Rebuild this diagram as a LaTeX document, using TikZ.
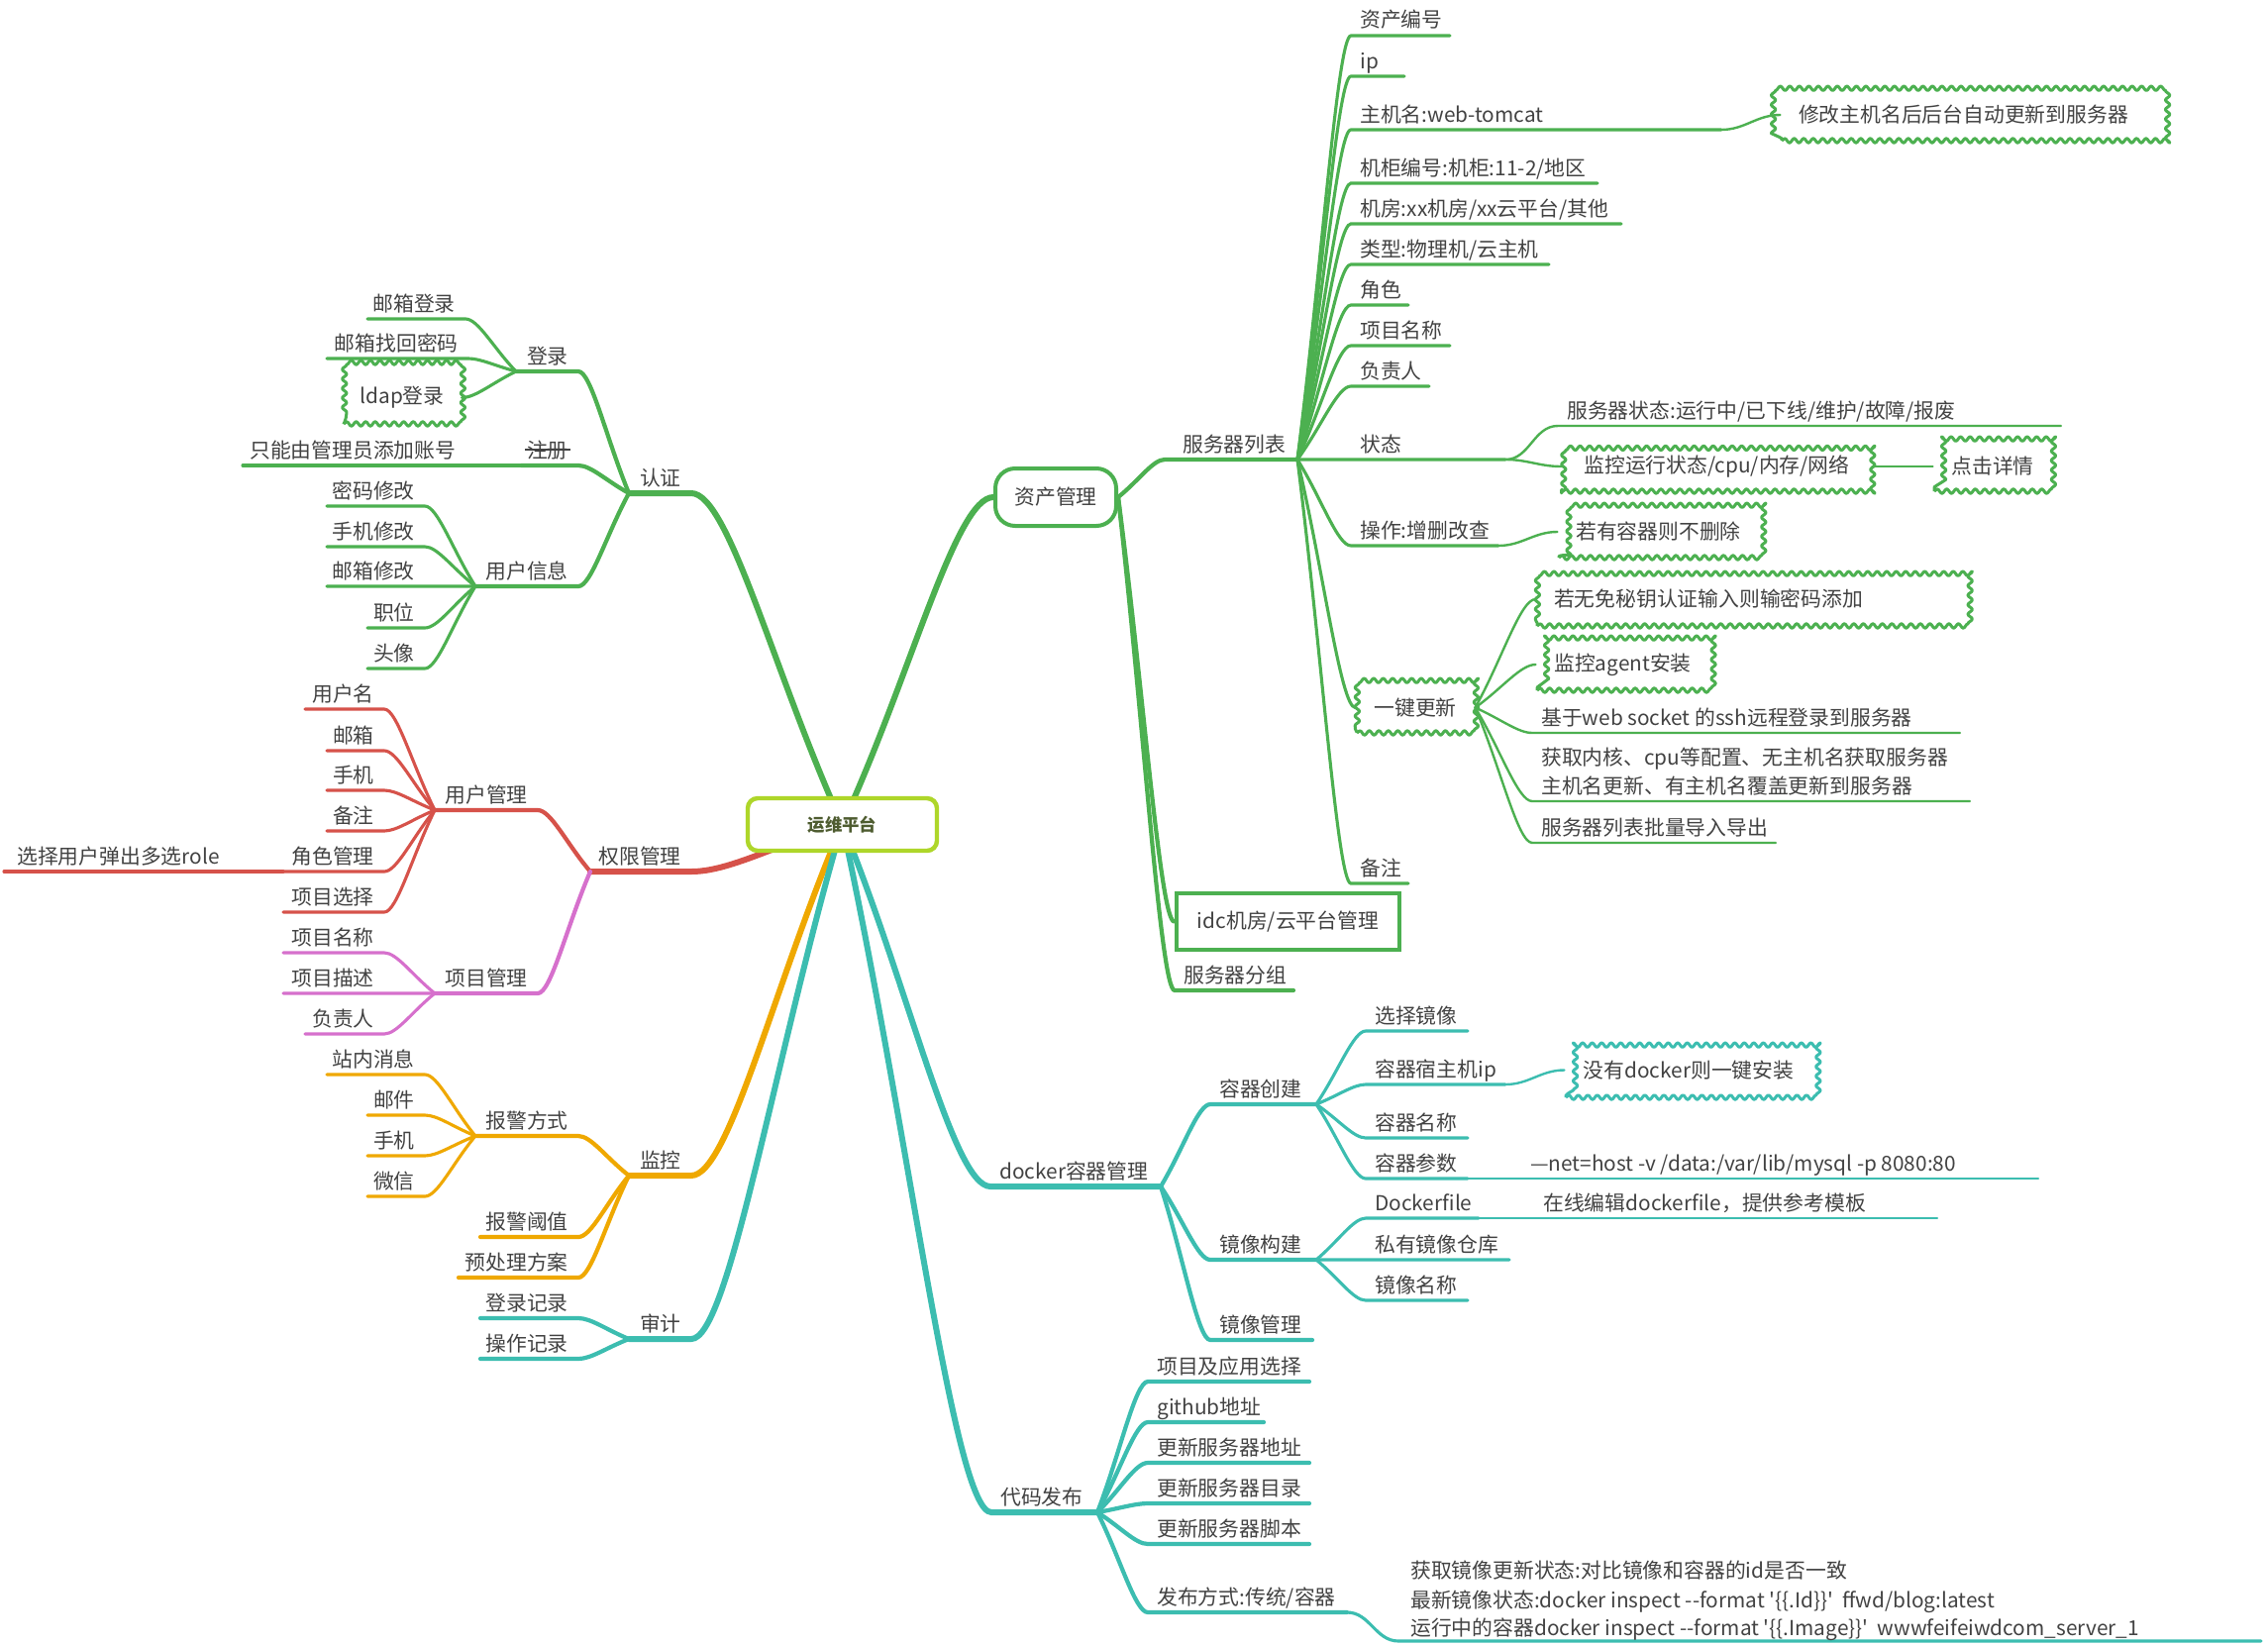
\documentclass[tikz,border=0pt]{standalone}
\usepackage{fontspec}
\setmainfont{Noto Sans CJK SC}
\newfontfamily\codefont{Noto Sans CJK SC}
\usetikzlibrary{calc,backgrounds,decorations.pathmorphing}

\definecolor{cgreen}{RGB}{76,176,80}
\definecolor{cred}{RGB}{214,82,74}
\definecolor{cpink}{RGB}{214,112,204}
\definecolor{corange}{RGB}{239,168,0}
\definecolor{cteal}{RGB}{60,189,176}
\definecolor{croot}{RGB}{174,214,42}
\definecolor{croottext}{RGB}{78,92,48}
\definecolor{ctext}{RGB}{66,66,66}

\begin{document}
\begin{tikzpicture}[x=0.25mm, y=-0.25mm,
  lbl/.style={font=\fontsize{14.8pt}{17pt}\selectfont, text=ctext, inner sep=0pt},
  ltxt/.style={lbl, anchor=base east, xshift=-2.5mm, yshift=2mm},
  rtxt/.style={lbl, anchor=base west, xshift=2.25mm, yshift=2mm},
  curvy/.style={to path={let \p1=(\tikztostart), \p2=(\tikztotarget) in
    .. controls ({0.55*\x1+0.45*\x2},{0.55*\y1+0.45*\y2})
    and ({0.75*\x2+0.25*\x1},\y2) .. (\tikztotarget)}},
  scurve/.style={out=0, in=180},
  l1/.style={line width=1.5mm, line cap=round},
  l2/.style={line width=1.05mm, line cap=round},
  l3/.style={line width=0.78mm, line cap=round},
  l4/.style={line width=0.6mm, line cap=round},
  rootbox/.style={draw=croot, fill=white, line width=1.1mm, rounded corners=2.5mm,
    minimum width=47.75mm, minimum height=13.25mm, inner sep=0pt, text=croottext,
    font=\fontsize{12.4pt}{15pt}\selectfont\bfseries},
  topicbox/.style={lbl, draw=cgreen, fill=white, line width=1mm},
  cloudbox/.style={lbl, draw=#1, fill=white, line width=0.75mm, line join=round, decorate,
    decoration={snake, segment length=2.4mm, amplitude=0.55mm}},
  cloudbox/.default=cgreen]
\useasboundingbox (0,0) rectangle (2290,1662);

\node[rootbox] (root) at (850.5,832.5) {运维平台};
\node[topicbox, rounded corners=5mm, minimum width=30.5mm, minimum height=14.5mm] (zc) at (1066,502) {资产管理};
\node[topicbox, line width=1.2mm, minimum width=56.25mm, minimum height=14.25mm] (idc) at (1300.5,930.5) {idc机房/云平台管理};

% main branches
\coordinate (rz-r) at (698,498);   \coordinate (rz-l) at (635,498);
\coordinate (qx-r) at (698,880);   \coordinate (qx-l) at (596,880);
\coordinate (jk-r) at (698,1187);  \coordinate (jk-l) at (635,1187);
\coordinate (shj-r) at (698,1352); \coordinate (shj-l) at (635,1352);
\coordinate (dk-l) at (1000,1198); \coordinate (dk-r) at (1172,1198);
\coordinate (dm-l) at (1001,1527); \coordinate (dm-r) at (1108,1527);
\begin{scope}[on background layer]
  \draw[l1, cgreen] (root.center) to[curvy] (rz-r) -- (rz-l);
  \draw[l1, cred] (root.center) to[curvy] (qx-r) -- (qx-l);
  \draw[l1, corange] (root.center) to[curvy] (jk-r) -- (jk-l);
  \draw[l1, cteal] (root.center) to[curvy] (shj-r) -- (shj-l);
  \draw[l1, cgreen] (root.center) to[curvy] (zc.west);
  \draw[l1, cteal] (root.center) to[curvy] (dk-l) -- (dk-r);
  \draw[l1, cteal] (root.center) to[curvy] (dm-l) -- (dm-r);
\end{scope}
\node[ltxt] (rz) at (rz-r) {认证};
\node[ltxt] (qx) at (qx-r) {权限管理};
\node[ltxt] (jk) at (jk-r) {监控};
\node[ltxt] (shj) at (shj-r) {审计};
\node[rtxt] (dk) at (dk-l) {docker容器管理};
\node[rtxt] (dm) at (dm-l) {代码发布};

% 认证
\coordinate (dl-r) at (584,375);   \coordinate (dl-l) at (521,375);
\coordinate (zcc-r) at (584,470);  \coordinate (zcc-l) at (526,470);
\coordinate (yhxx-r) at (584,592); \coordinate (yhxx-l) at (480,592);
\draw[l2, cgreen] (rz-l) to[curvy] (dl-r) -- (dl-l);
\draw[l2, cgreen] (rz-l) to[curvy] (zcc-r) -- (zcc-l);
\draw[l2, cgreen] (rz-l) to[curvy] (yhxx-r) -- (yhxx-l);
\node[ltxt] (dl) at (dl-r) {登录};
\node[ltxt] (zcc) at (zcc-r) {注册};
\draw[ctext, line width=0.35mm] ([xshift=-0.4mm]zcc.west) -- ([xshift=0.4mm]zcc.east);
\node[ltxt] (yhxx) at (yhxx-r) {用户信息};
\foreach \nm/\yy/\xa/\xb/\tx in {yxdl/322/371/470/邮箱登录, yxzh/362/330/473/邮箱找回密码}{
  \coordinate (\nm-r) at (\xb,\yy); \coordinate (\nm-l) at (\xa,\yy);
  \draw[l3, cgreen] (dl-l) to[curvy] (\nm-r) -- (\nm-l);
  \node[ltxt] (\nm) at (\nm-r) {\tx};
}
\node[cloudbox, minimum width=29.5mm, minimum height=13.25mm] (ldap) at (406,401.5) {ldap登录};
\draw[l3, cgreen] (dl-l) to[curvy] (ldap.east);
\coordinate (zhgl-l) at (245,470);
\draw[l3, cgreen] (zcc-l) -- (zhgl-l);
\node[lbl, anchor=base west] (zhgl) at ([xshift=1.75mm, yshift=2mm]zhgl-l) {只能由管理员添加账号};
\foreach \nm/\yy/\xa/\tx in {mmxg/511/330/密码修改, sjxg/552/330/手机修改, yxxg/592/330/邮箱修改, zw/634/371/职位, tx/675/371/头像}{
  \coordinate (\nm-r) at (429,\yy); \coordinate (\nm-l) at (\xa,\yy);
  \draw[l3, cgreen] (yhxx-l) to[curvy] (\nm-r) -- (\nm-l);
  \node[ltxt] (\nm) at (\nm-r) {\tx};
}

% 权限管理
\coordinate (yhgl-r) at (543,818);  \coordinate (yhgl-l) at (439,818);
\coordinate (xmgl-r) at (543,1003); \coordinate (xmgl-l) at (439,1003);
\draw[l2, cred] (qx-l) to[curvy] (yhgl-r) -- (yhgl-l);
\draw[l2, cpink] (qx-l) to[curvy] (xmgl-r) -- (xmgl-l);
\node[ltxt] (yhgl) at (yhgl-r) {用户管理};
\node[ltxt] (xmgl) at (xmgl-r) {项目管理};
\foreach \nm/\yy/\xa/\tx in {yhm/716/308/用户名, yhyx/758/330/邮箱, yhsj/798/330/手机, yhbz/839/330/备注, jsgl/880/286/角色管理, xmxz/921/286/项目选择}{
  \coordinate (\nm-r) at (388,\yy); \coordinate (\nm-l) at (\xa,\yy);
  \draw[l3, cred] (yhgl-l) to[curvy] (\nm-r) -- (\nm-l);
  \node[ltxt] (\nm) at (\nm-r) {\tx};
}
\coordinate (role-l) at (4,880);
\draw[l3, cred] (jsgl-l) -- (role-l);
\node[lbl, anchor=base west] (role) at ([xshift=3.25mm, yshift=2mm]role-l) {选择用户弹出多选role};
\foreach \nm/\yy/\xa/\tx in {xmmc/962/286/项目名称, xmms/1003/286/项目描述, xmfz/1044/308/负责人}{
  \coordinate (\nm-r) at (388,\yy); \coordinate (\nm-l) at (\xa,\yy);
  \draw[l3, cpink] (xmgl-l) to[curvy] (\nm-r) -- (\nm-l);
  \node[ltxt] (\nm) at (\nm-r) {\tx};
}

% 监控
\coordinate (bjfs-r) at (584,1147); \coordinate (bjfs-l) at (480,1147);
\coordinate (bjyz-r) at (584,1249); \coordinate (bjyz-l) at (485,1249);
\coordinate (ycl-r) at (584,1290);  \coordinate (ycl-l) at (463,1290);
\draw[l2, corange] (jk-l) to[curvy] (bjfs-r) -- (bjfs-l);
\draw[l2, corange] (jk-l) to[curvy] (bjyz-r) -- (bjyz-l);
\draw[l2, corange] (jk-l) to[curvy] (ycl-r) -- (ycl-l);
\node[ltxt] (bjfs) at (bjfs-r) {报警方式};
\node[ltxt] (bjyz) at (bjyz-r) {报警阈值};
\node[ltxt] (ycl) at (ycl-r) {预处理方案};
\foreach \nm/\yy/\xa/\tx in {znxx/1085/330/站内消息, bjyj/1126/371/邮件, bjsj/1167/371/手机, bjwx/1208/371/微信}{
  \coordinate (\nm-r) at (429,\yy); \coordinate (\nm-l) at (\xa,\yy);
  \draw[l3, corange] (bjfs-l) to[curvy] (\nm-r) -- (\nm-l);
  \node[ltxt] (\nm) at (\nm-r) {\tx};
}

% 审计
\foreach \nm/\yy/\tx in {dljl/1331/登录记录, czjl/1372/操作记录}{
  \coordinate (\nm-r) at (584,\yy); \coordinate (\nm-l) at (485,\yy);
  \draw[l2, cteal] (shj-l) to[curvy] (\nm-r) -- (\nm-l);
  \node[ltxt] (\nm) at (\nm-r) {\tx};
}

% 资产管理
\coordinate (fwq-l) at (1176,464); \coordinate (fwq-r) at (1310,464);
\coordinate (fz-l) at (1186,1000); \coordinate (fz-r) at (1306,1000);
\draw[l2, cgreen] (zc.east) to[curvy] (fwq-l) -- (fwq-r);
\draw[l2, cgreen] (zc.east) to[curvy] (idc.west);
\draw[l2, cgreen] (zc.east) to[curvy] (fz-l) -- (fz-r);
\node[lbl, anchor=base west] (fwq) at ([xshift=4.5mm, yshift=2mm]fwq-l) {服务器列表};
\node[rtxt] (fz) at (fz-l) {服务器分组};
\foreach \nm/\yy/\xb/\tx in {zcbh/36/1464/资产编号, ip/77/1418/ip, zjm/131/1738/主机名:web-tomcat,
    jgbh/185/1613/{机柜编号:机柜:11-2/地区}, jf/226/1637/{机房:xx机房/xx云平台/其他},
    lx/267/1564/{类型:物理机/云主机}, js/308/1422/角色, fxmmc/349/1464/项目名称,
    ffzr/390/1443/负责人, zt/464/1520/状态, cz/551/1513/操作:增删改查, fbz/892/1422/备注}{
  \coordinate (\nm-l) at (1364,\yy); \coordinate (\nm-r) at (\xb,\yy);
  \draw[l3, cgreen] (fwq-r) to[curvy] (\nm-l) -- (\nm-r);
  \node[rtxt] (\nm) at (\nm-l) {\tx};
}
\node[cloudbox, minimum width=97.75mm, minimum height=13mm, text width=89.25mm, align=left] (xgzj) at (1994.5,116) {修改主机名后后台自动更新到服务器};
\draw[l4, cgreen] (zjm-r) to[scurve] (xgzj.west);
\coordinate (ztxx-l) at (1573,430); \coordinate (ztxx-r) at (2081,430);
\draw[l4, cgreen] (zt-r) to[scurve] (ztxx-l) -- (ztxx-r);
\node[rtxt] (ztxx) at (ztxx-l) {服务器状态:运行中/已下线/维护/故障/报废};
\node[cloudbox, minimum width=77.75mm, minimum height=12.5mm] (jkzt) at (1733.5,471) {监控运行状态/cpu/内存/网络};
\node[cloudbox, minimum width=29.5mm, minimum height=12.5mm] (djxq) at (2012,471) {点击详情};
\draw[l4, cgreen] (zt-r) to[scurve] (jkzt.west);
\draw[l4, cgreen] (jkzt.east) -- (djxq.west);
\node[cloudbox, minimum width=50.25mm, minimum height=13mm] (ryrq) at (1674.5,537) {若有容器则不删除};
\draw[l4, cgreen] (cz-r) to[scurve] (ryrq.west);
\node[cloudbox, minimum width=29.5mm, minimum height=12.75mm] (yjgx) at (1429,714.5) {一键更新};
\draw[l3, cgreen] (fwq-r) to[curvy] (yjgx.west);
\node[cloudbox, minimum width=108.25mm, minimum height=13.5mm, text width=99.75mm, align=left] (mytj) at (1768.5,605) {若无免秘钥认证输入则输密码添加};
\node[cloudbox, minimum width=43.25mm, minimum height=13mm] (agent) at (1638.5,671) {监控agent安装};
\draw[l4, cgreen] (yjgx.east) to[curvy] (mytj.west);
\draw[l4, cgreen] (yjgx.east) to[curvy] (agent.west);
\foreach \nm/\yy/\xb/\tx in {ssh/740/1979/基于web socket 的ssh远程登录到服务器, pz/809/1989/主机名更新、有主机名覆盖更新到服务器, drdc/851/1793/服务器列表批量导入导出}{
  \coordinate (\nm-l) at (1547,\yy); \coordinate (\nm-r) at (\xb,\yy);
  \draw[l4, cgreen] (yjgx.east) to[curvy] (\nm-l) -- (\nm-r);
  \node[rtxt] (\nm) at (\nm-l) {\tx};
}
\node[lbl, anchor=base west] (pz0) at ([yshift=7.25mm]pz.base west) {获取内核、cpu等配置、无主机名获取服务器};

% docker容器管理
\coordinate (rqcj-l) at (1222,1115); \coordinate (rqcj-r) at (1329,1115);
\coordinate (jxgj-l) at (1222,1272); \coordinate (jxgj-r) at (1329,1272);
\coordinate (jxgl-l) at (1222,1353); \coordinate (jxgl-r) at (1325,1353);
\draw[l2, cteal] (dk-r) to[curvy] (rqcj-l) -- (rqcj-r);
\draw[l2, cteal] (dk-r) to[curvy] (jxgj-l) -- (jxgj-r);
\draw[l2, cteal] (dk-r) to[curvy] (jxgl-l) -- (jxgl-r);
\node[rtxt] (rqcj) at (rqcj-l) {容器创建};
\node[rtxt] (jxgj) at (jxgj-l) {镜像构建};
\node[rtxt] (jxgl) at (jxgl-l) {镜像管理};
\foreach \nm/\yy/\xb/\tx in {xzjx/1041/1482/选择镜像, sszj/1095/1520/容器宿主机ip, rqmc/1149/1482/容器名称, rqcs/1190/1482/容器参数}{
  \coordinate (\nm-l) at (1379,\yy); \coordinate (\nm-r) at (\xb,\yy);
  \draw[l3, cteal] (rqcj-r) to[curvy] (\nm-l) -- (\nm-r);
  \node[rtxt] (\nm) at (\nm-l) {\tx};
}
\node[cloudbox=cteal, minimum width=62mm, minimum height=13.75mm] (azdk) at (1705,1080.5) {没有docker则一键安装};
\draw[l4, cteal] (sszj-r) to[scurve] (azdk.west);
\coordinate (cs-r) at (2058,1190);
\draw[l4, cteal] (rqcs-r) -- (cs-r);
\node[lbl, anchor=base west] (cs) at ([xshift=15.75mm, yshift=2mm]rqcs-r) {---net=host -v /data:/var/lib/mysql -p 8080:80};
\foreach \nm/\yy/\xb/\tx in {dkf/1230/1493/Dockerfile, syck/1272/1524/私有镜像仓库, jxmc/1313/1482/镜像名称}{
  \coordinate (\nm-l) at (1379,\yy); \coordinate (\nm-r) at (\xb,\yy);
  \draw[l3, cteal] (jxgj-r) to[curvy] (\nm-l) -- (\nm-r);
  \node[rtxt] (\nm) at (\nm-l) {\tx};
}
\coordinate (bj-r) at (1956,1230);
\draw[l4, cteal] (dkf-r) -- (bj-r);
\node[lbl, anchor=base west] (bj) at ([xshift=16.25mm, yshift=2mm]dkf-r) {在线编辑dockerfile，提供参考模板};

% 代码发布
\foreach \nm/\yy/\xb/\tx in {xmyy/1395/1322/项目及应用选择, gh/1436/1276/github地址, gxdz/1477/1322/更新服务器地址,
    gxml/1518/1322/更新服务器目录, gxjb/1559/1322/更新服务器脚本, fbfs/1628/1360/{发布方式:传统/容器}}{
  \coordinate (\nm-l) at (1159,\yy); \coordinate (\nm-r) at (\xb,\yy);
  \draw[l2, cteal] (dm-r) to[curvy] (\nm-l) -- (\nm-r);
  \node[rtxt] (\nm) at (\nm-l) {\tx};
}
\coordinate (fb-l) at (1412,1657); \coordinate (fb-r) at (2283,1657);
\draw[l3, cteal] (fbfs-r) to[scurve] (fb-l) -- (fb-r);
\node[lbl, anchor=base west] (fb3) at ([xshift=3mm, yshift=1.5mm]fb-l) {\codefont 运行中的容器docker inspect --format '\{\{.Image\}\}'\ \ wwwfeifeiwdcom\_server\_1};
\node[lbl, anchor=base west] (fb2) at ([yshift=7mm]fb3.base west) {\codefont 最新镜像状态:docker inspect --format '\{\{.Id\}\}'\ \ ffwd/blog:latest};
\node[lbl, anchor=base west] (fb1) at ([yshift=7.5mm]fb2.base west) {获取镜像更新状态:对比镜像和容器的id是否一致};
\end{tikzpicture}
\end{document}
